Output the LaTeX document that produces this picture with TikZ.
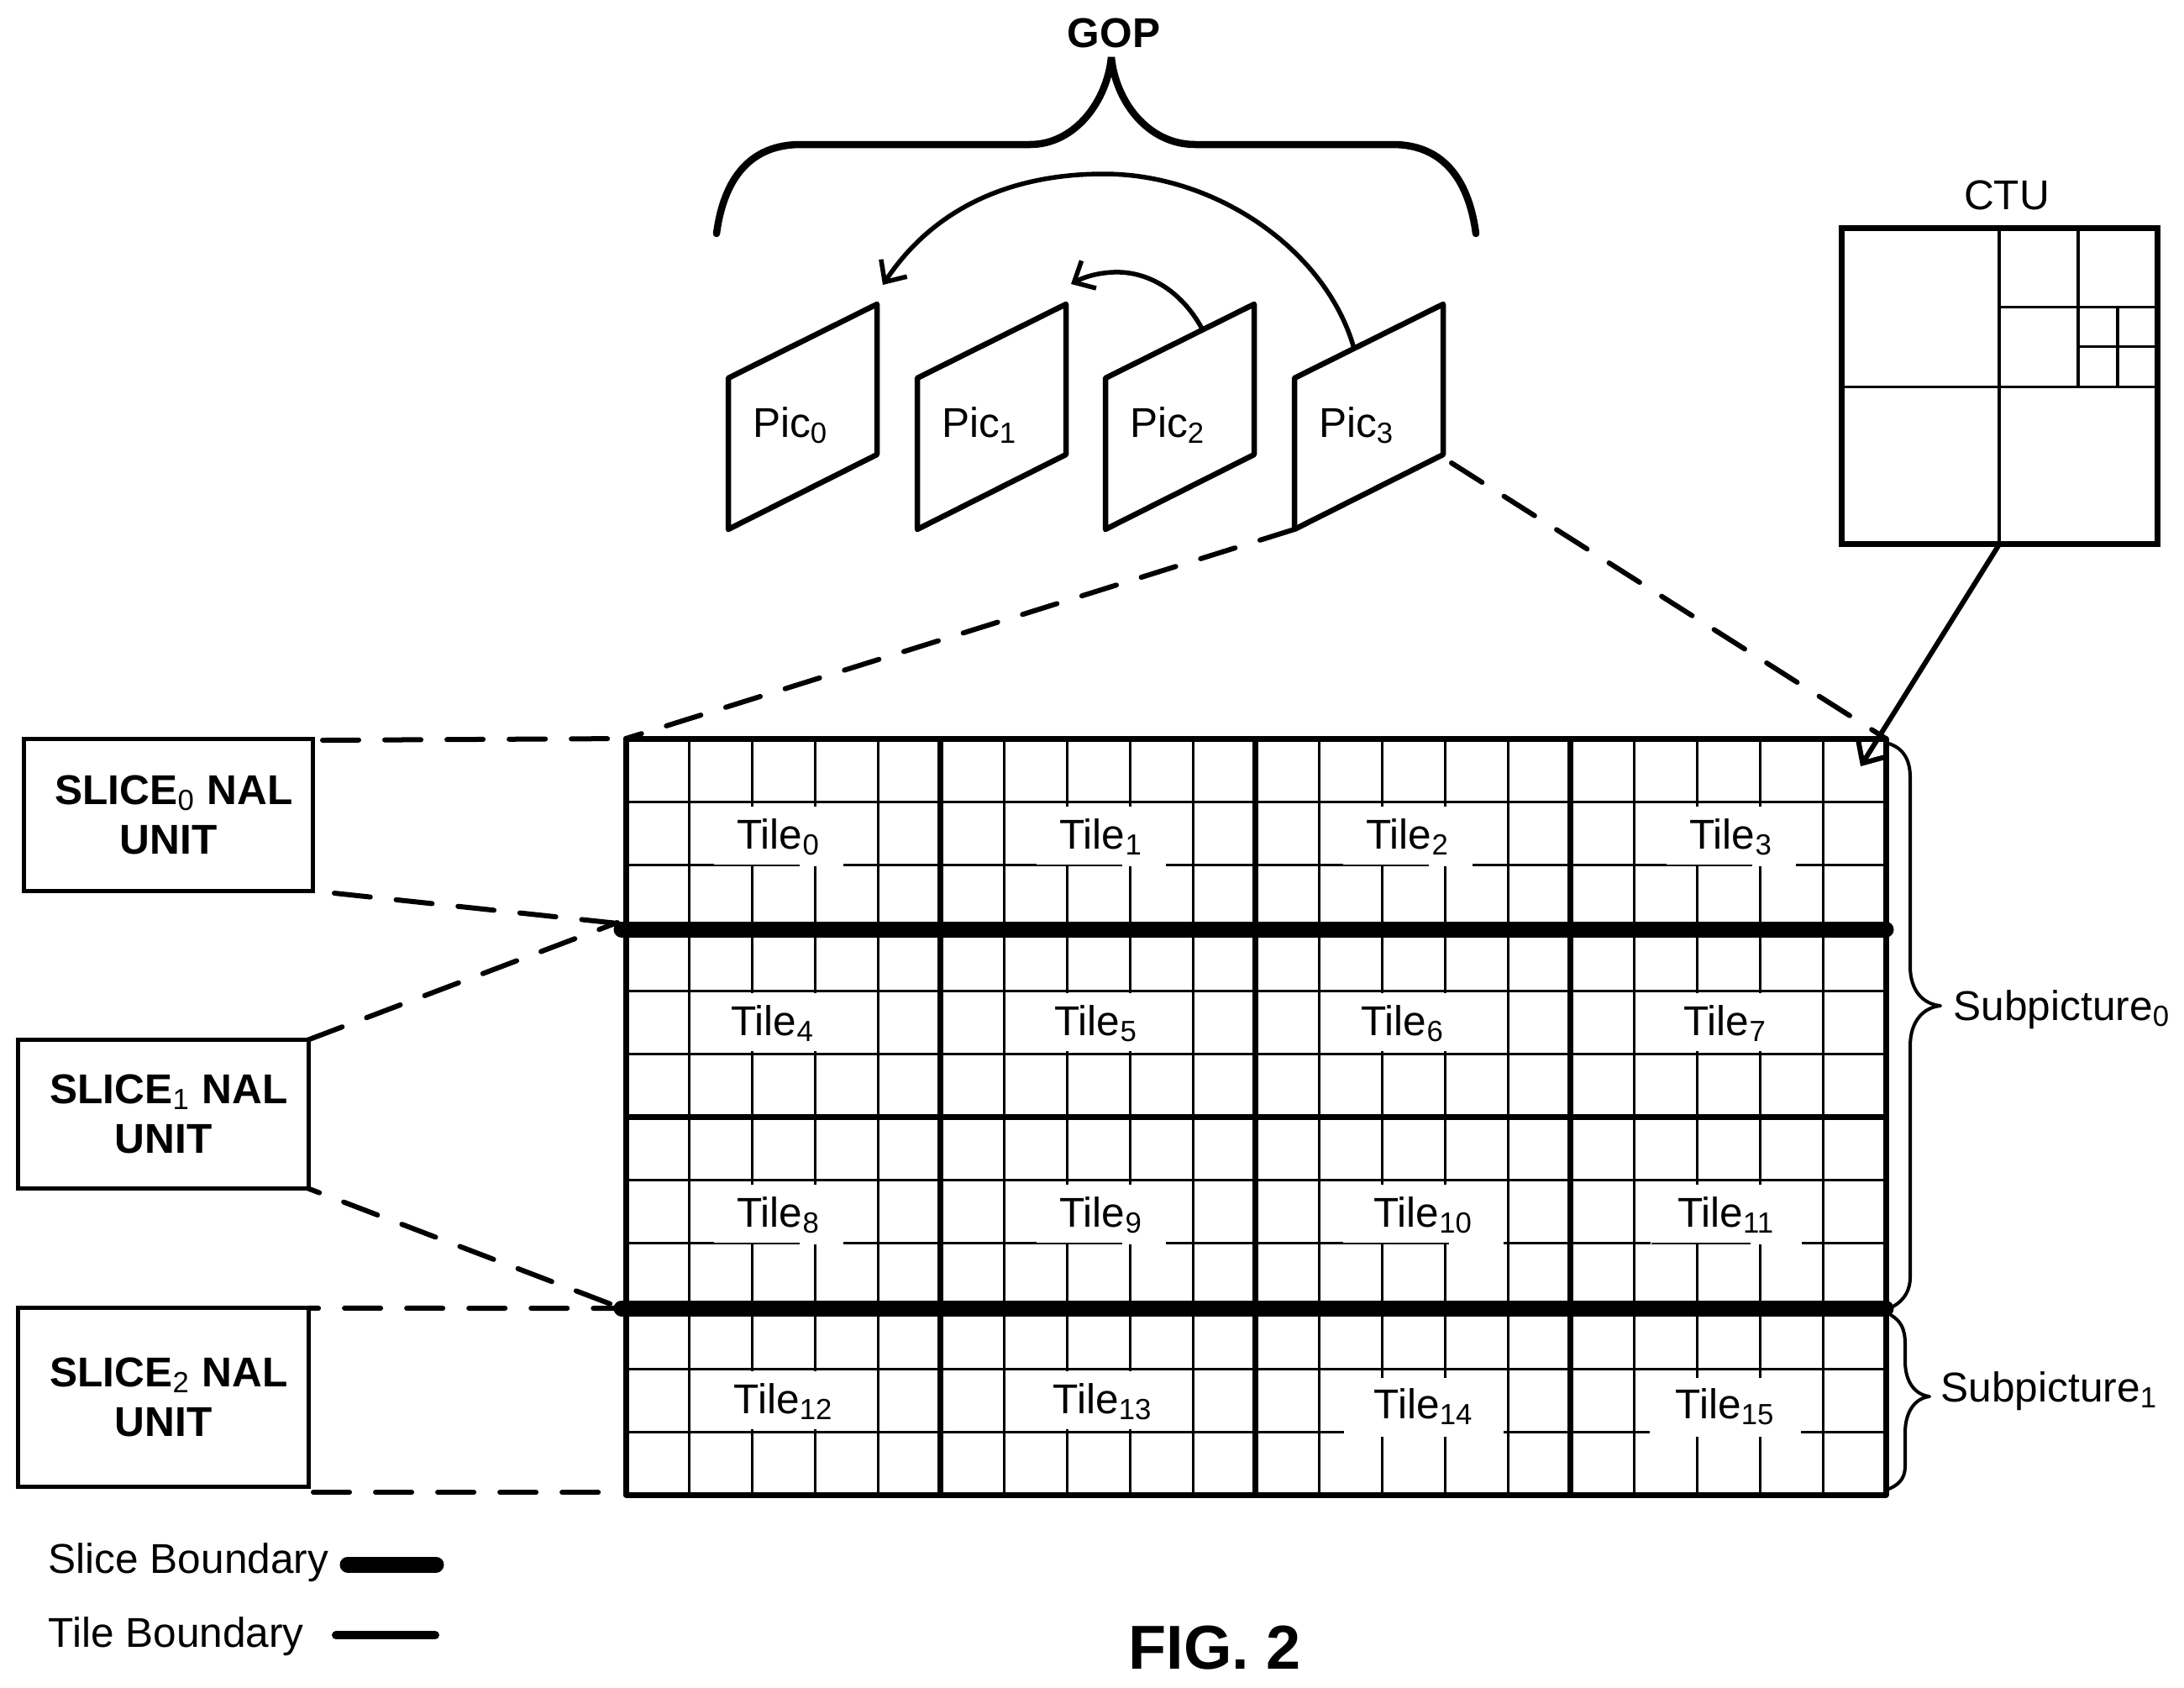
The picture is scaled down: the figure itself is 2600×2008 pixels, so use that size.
\documentclass[tikz,border=0pt]{standalone}
\usepackage{fontspec}
\setmainfont{Liberation Sans}
\usepackage{tikz}
\usetikzlibrary{arrows.meta}
\tikzset{
    plain-label/.style = {font=\fontsize{14.1}{17}\selectfont, inner sep=0pt, anchor=base},
    bold-label/.style = {font=\fontsize{14.1}{17}\selectfont\bfseries, inner sep=0pt, anchor=base},
    tile-label/.style = {plain-label, fill=white, minimum width=1.53cm, text height=.5cm, text depth=.21cm},
    tile-label-open/.style = {plain-label, fill=white, minimum width=1.78cm, text height=.5cm, text depth=.19cm},
    slice-box/.style = {draw, line width=.05cm, align=center, outer sep=0pt, font=\fontsize{14.1}{17}\selectfont\bfseries},
    ctu-box/.style = {draw, line width=.07cm, minimum width=3.75cm, minimum height=3.75cm, outer sep=0pt},
    grid-line/.style = {line width=.03cm},
    grid-rest/.style = {line width=.012cm},
    tile-boundary/.style = {line width=.07cm},
    slice-boundary/.style = {line width=.19cm, line cap=round},
    dash-line/.style = {line width=.06cm, line cap=round, dash pattern=on .43cm off .31cm},
    pic-frame/.style = {line width=.065cm, line join=round},
    barb-arrow/.style = {line width=.055cm, -{Straight Barb[length=.2cm, width=.37cm]}},
    brace-line/.style = {line width=.04cm, line cap=round, line join=round},
}
\newcommand{\regsub}[1]{\textsubscript{\normalfont #1}}

\begin{document}
\begin{tikzpicture}[x=.01cm, y=-.01cm]
\useasboundingbox (0,0) rectangle (2600,2008);

% the 20 by 12 grid of CTUs
\foreach \x in {820,895,...,2170} {
    \draw [grid-line] (\x,879) -- (\x,1779);
}
\foreach \y in {954,1029,...,1704} {
    \draw [grid-line] (745,\y) -- (2245,\y);
}

% tile names, their white boxes break the grid
\node [tile-label] (tile0) at (927,1010) {Tile\textsubscript{0}};
\node [tile-label] (tile1) at (1311,1010) {Tile\textsubscript{1}};
\node [tile-label] (tile2) at (1676,1010) {Tile\textsubscript{2}};
\node [tile-label] (tile3) at (2061,1010) {Tile\textsubscript{3}};
\node [tile-label-open] (tile4) at (920,1232) {Tile\textsubscript{4}};
\node [tile-label-open] (tile5) at (1305,1232) {Tile\textsubscript{5}};
\node [tile-label-open] (tile6) at (1670,1232) {Tile\textsubscript{6}};
\node [tile-label-open] (tile7) at (2054,1232) {Tile\textsubscript{7}};
\node [tile-label] (tile8) at (927,1460) {Tile\textsubscript{8}};
\node [tile-label] (tile9) at (1311,1460) {Tile\textsubscript{9}};
\node [tile-label, minimum width=1.91cm] (tile10) at (1694.5,1460) {Tile\textsubscript{10}};
\node [tile-label, minimum width=1.79cm] (tile11) at (2055,1460) {Tile\textsubscript{11}};
\node [tile-label-open] (tile12) at (933,1682) {Tile\textsubscript{12}};
\node [tile-label-open] (tile13) at (1313,1682) {Tile\textsubscript{13}};
\node [tile-label, minimum width=1.9cm, text height=.48cm, text depth=.22cm] (tile14) at (1695,1688) {Tile\textsubscript{14}};
\node [tile-label, minimum width=1.79cm, text height=.48cm, text depth=.22cm] (tile15) at (2054,1688) {Tile\textsubscript{15}};

% what is left of the grid under some of the names
\foreach \a/\b/\y in {850/952/1030,1234/1336/1030,1599/1701/1030,1984/2086/1030,850/952/1480,1234/1336/1480,1599/1725/1480,1966/2084/1480} {
    \draw [grid-rest] (\a,\y) -- (\b,\y);
}

% tile and slice boundaries
\foreach \x in {1119,1494,1869} {
    \draw [tile-boundary] (\x,879) -- (\x,1779);
}
\draw [tile-boundary] (745,1329) -- (2245,1329);
\draw [tile-boundary, line join=round] (745,879) rectangle (2245,1779);
\coordinate (grid-nw) at (745,879);
\coordinate (grid-ne) at (2245,879);
\coordinate (slice-a-w) at (740,1106);
\coordinate (slice-a-e) at (2245,1106);
\coordinate (slice-b-w) at (740,1557);
\coordinate (slice-b-e) at (2245,1557);
\draw [slice-boundary] (slice-a-w) -- (slice-a-e);
\draw [slice-boundary] (slice-b-w) -- (slice-b-e);

% pictures of the GOP
\foreach \i/\x in {0/867,1/1092,2/1316,3/1541} {
    \draw [pic-frame] (\x,450) -- ++(177,-88) -- ++(0,179) -- ++(-177,89) -- cycle;
    \node [plain-label] (pic\i) at (\x+74,520) {Pic\textsubscript{\i}};
}
\coordinate (pic3-sw) at (1541,630);
\coordinate (pic3-se) at (1728,551);
\coordinate (pic3-top) at (1612,415);
\coordinate (pic2-top) at (1433,395);
\coordinate (pic0-tip) at (1051,339);
\coordinate (pic1-tip) at (1275,338);
\draw [barb-arrow] (pic3-top) .. controls (1580,300) and (1450,207) .. (1314,207) .. controls (1200,207) and (1110,250) .. (pic0-tip);
\draw [barb-arrow] (pic2-top) .. controls (1410,350) and (1370,322) .. (1325,324) .. controls (1305,325) and (1290,330) .. (pic1-tip);
\draw [dash-line] (pic3-sw) -- (grid-nw);
\draw [dash-line] (pic3-se) -- (grid-ne);

% GOP brace
\draw [line width=.085cm, line cap=round, line join=bevel] (853,278) .. controls (862,210) and (895,172) .. (953,172) -- (1226,172) .. controls (1280,172) and (1318,120) .. (1323,68) .. controls (1328,120) and (1366,172) .. (1423,172) -- (1658,172) .. controls (1715,172) and (1748,210) .. (1757,278);
\node [bold-label] (gop) at (1326,56) {GOP};

% CTU
\node [ctu-box] (ctu) at (2380.5,459.5) {};
\node [plain-label] (ctu-title) at (2389,249) {CTU};
\draw [line width=.035cm] (2380,272) -- (2380,647);
\draw [line width=.03cm] (2193,460) -- (2568,460);
\draw [line width=.035cm] (2474,272) -- (2474,460);
\draw [line width=.03cm] (2380,365) -- (2568,365);
\draw [line width=.035cm] (2521,365) -- (2521,460);
\draw [line width=.03cm] (2474,412) -- (2568,412);
\coordinate (ctu-tip) at (2215,912);
\draw [barb-arrow, line width=.06cm] (ctu.south) -- (ctu-tip);

% slice NAL units
\node [slice-box, minimum width=3.43cm, minimum height=1.8cm] (box0) at (200.5,970) {\hspace*{.13cm}SLICE\regsub{0} NAL\\UNIT};
\node [slice-box, minimum width=3.45cm, minimum height=1.77cm] (box1) at (194.5,1326) {\hspace*{.13cm}SLICE\regsub{1} NAL\\UNIT};
\node [slice-box, minimum width=3.45cm, minimum height=2.12cm] (box2) at (194.5,1663) {\hspace*{.13cm}SLICE\regsub{2} NAL\\UNIT};
\coordinate (box0-top) at (384,881);
\coordinate (box0-out) at (398,1063);
\coordinate (box0-end) at (745,1100);
\coordinate (box1-end) at (735,1098);
\coordinate (box2-out) at (373,1776);
\coordinate (grid-sw-out) at (722,1776);
\draw [dash-line] (box0-top) -- (grid-nw);
\draw [dash-line] (box0-out) -- (box0-end);
\draw [dash-line] (box1.north east) -- (box1-end);
\draw [dash-line, dash phase=.29cm] (box1.south east) -- (slice-b-w);
\draw [dash-line, dash phase=.31cm] (box2.north east) -- (slice-b-w);
\draw [dash-line] (box2-out) -- (grid-sw-out);

% subpicture braces
\draw [brace-line] (2245,884) .. controls (2262,888) and (2274,900) .. (2274,925) -- (2274,1150) .. controls (2274,1180) and (2290,1195) .. (2310,1197) .. controls (2290,1199) and (2274,1215) .. (2274,1245) -- (2274,1520) .. controls (2274,1540) and (2262,1552) .. (2249,1557);
\draw [brace-line] (2251,1565) .. controls (2262,1572) and (2268,1580) .. (2268,1600) -- (2268,1620) .. controls (2268,1645) and (2280,1660) .. (2297,1662) .. controls (2280,1664) and (2268,1680) .. (2268,1705) -- (2268,1745) .. controls (2268,1760) and (2260,1768) .. (2246,1773);
\node [plain-label, anchor=base west] (subpic0) at (2325,1214) {Subpicture\textsubscript{0}};
\node [plain-label, anchor=base west] (subpic1) at (2310,1668) {Subpicture\textsubscript{1}};

% legend
\node [plain-label, anchor=base west] (legend-slice) at (57,1872) {Slice Boundary};
\node [plain-label, anchor=base west] (legend-tile) at (57,1960) {Tile Boundary};
\coordinate (legend-slice-a) at (414,1862);
\coordinate (legend-slice-b) at (519,1862);
\coordinate (legend-tile-a) at (400,1946);
\coordinate (legend-tile-b) at (518,1946);
\draw [slice-boundary] (legend-slice-a) -- (legend-slice-b);
\draw [line width=.1cm, line cap=round] (legend-tile-a) -- (legend-tile-b);

\node [font=\fontsize{21}{25}\selectfont\bfseries, inner sep=0pt, anchor=base] (fig) at (1446,1986) {FIG. 2};
\end{tikzpicture}
\end{document}
